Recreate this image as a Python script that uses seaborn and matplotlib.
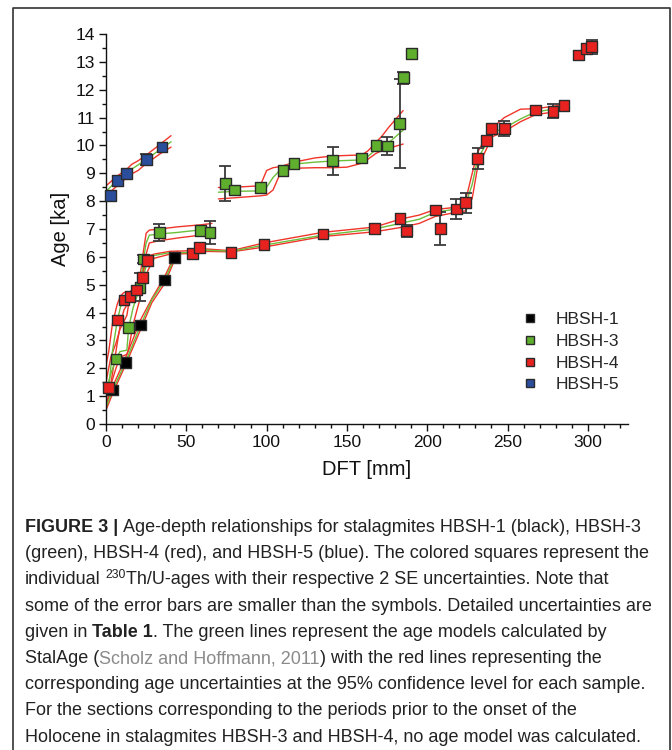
import numpy as np
import pandas as pd
import matplotlib
matplotlib.use("Agg")
import matplotlib.pyplot as plt
import seaborn as sns
from matplotlib.ticker import MultipleLocator
from matplotlib.transforms import IdentityTransform
from matplotlib.lines import Line2D

# ---------------- data: U/Th ages ----------------
h1_dft = [4.2, 12.0, 21.6, 36.6, 42.8]
h1_age = [1.22, 2.20, 3.55, 5.17, 5.98]
h1_err = [0, 0, 0, 0, 0]

h3_dft = [6.2, 14.1, 21.2, 23.3, 33.2, 59.0, 64.8,
          74.2, 80.0, 96.0, 110.2, 117.0, 141.1, 159.2, 168.1, 175.2, 182.9, 185.0, 190.0]
h3_age = [2.33, 3.46, 4.91, 5.92, 6.88, 6.94, 6.87,
          8.64, 8.40, 8.48, 9.09, 9.36, 9.45, 9.55, 10.0, 9.98, 10.79, 12.43, 13.29]
h3_err = [0, 0, 0.5, 0.15, 0.31, 0.1, 0.41,
          0.62, 0, 0, 0, 0, 0.5, 0, 0, 0.31, 1.6, 0.21, 0]

h4_dft = [1.7, 7.0, 11.2, 15.0, 19.1, 22.9, 26.0, 54.0, 58.2, 77.9, 98.3, 135.1, 167.3,
          183.1, 187.3, 205.1, 208.2, 218.2, 224.0, 231.3, 237.1, 240.0, 248.1, 267.3,
          278.3, 285.1, 294.3, 299.1, 302.4]
h4_age = [1.30, 3.73, 4.45, 4.59, 4.81, 5.26, 5.86, 6.13, 6.33, 6.15, 6.44, 6.82, 7.01,
          7.37, 6.93, 7.68, 7.02, 7.72, 7.94, 9.52, 10.18, 10.60, 10.61, 11.27,
          11.22, 11.43, 13.25, 13.47, 13.54]
h4_err = [0, 0, 0, 0, 0, 0.1, 0, 0, 0, 0, 0, 0, 0,
          0, 0.2, 0, 0.6, 0.36, 0.37, 0.38, 0.1, 0, 0.28, 0,
          0.25, 0, 0, 0, 0.26]

h5_dft = [2.9, 7.0, 12.9, 25.1, 34.9]
h5_age = [8.19, 8.75, 9.00, 9.50, 9.94]
h5_err = [0, 0, 0, 0.2, 0]

# ---------------- data: StalAge models (median, upper, lower 95%) ----------------
m1_dft = [0, 4.2, 12, 21.6, 28.5, 36.6, 42.8, 44.5]
m1_med = [0.6, 1.22, 2.2, 3.55, 4.45, 5.17, 5.98, 6.15]
m1_up = [0.75, 1.35, 2.35, 3.75, 4.5, 5.3, 6.05, 6.2]
m1_lo = [0.5, 1.1, 2.1, 3.4, 4.35, 5.05, 5.9, 6.1]

m3a_dft = [0, 3, 6.2, 8.7, 13, 14.1, 17, 21.2, 23.3, 25, 27, 33.2, 45, 59, 66]
m3a_med = [1.2, 1.8, 2.33, 2.6, 2.65, 3.46, 4.2, 4.91, 5.9, 6.5, 6.78, 6.82, 6.88, 6.97, 7.02]
m3a_up = [1.5, 2.4, 2.9, 3.4, 3.9, 4.3, 4.7, 5.3, 6.2, 6.85, 6.96, 7.0, 7.08, 7.15, 7.2]
m3a_lo = [0.9, 1.4, 2.0, 2.4, 2.5, 2.7, 3.6, 4.5, 5.4, 6.1, 6.5, 6.58, 6.68, 6.78, 6.82]

m3b_dft = [70, 80, 96, 100, 104, 108.5, 113, 117, 130, 141, 150, 159.2, 163, 168, 172, 176, 185]
m3b_med = [8.32, 8.35, 8.37, 8.5, 8.85, 9.12, 9.28, 9.33, 9.4, 9.44, 9.46, 9.48, 9.6, 9.85, 9.97, 10.1, 10.55]
m3b_up = [8.49, 8.5, 8.55, 9.1, 9.2, 9.24, 9.32, 9.4, 9.55, 9.62, 9.64, 9.66, 9.8, 10.1, 10.35, 10.65, 11.25]
m3b_lo = [8.08, 8.12, 8.19, 8.22, 8.4, 9.0, 9.12, 9.18, 9.2, 9.2, 9.22, 9.36, 9.5, 9.71, 9.82, 9.9, 10.05]

m4_dft = [0, 1.7, 4, 7, 9, 11.2, 15, 19.1, 22.9, 26, 30, 40, 54, 58.2, 78, 98.3, 135, 167.3,
          183, 195, 205, 218, 224, 228, 231.3, 237.1, 240, 248, 258, 267.3, 278.3, 285]
m4_med = [0.9, 1.3, 2.6, 3.7, 4.2, 4.45, 4.6, 4.8, 5.25, 5.85, 6.05, 6.15, 6.15, 6.25, 6.2, 6.42,
          6.78, 7.0, 7.2, 7.35, 7.6, 7.72, 7.9, 8.6, 9.5, 10.1, 10.45, 10.62, 10.95, 11.2, 11.3, 11.42]
m4_up = [2.1, 2.6, 3.6, 4.3, 4.6, 4.72, 4.75, 4.95, 5.5, 6.02, 6.1, 6.2, 6.22, 6.3, 6.22, 6.5,
         6.88, 7.07, 7.35, 7.5, 7.7, 7.78, 8.05, 9.0, 9.75, 10.35, 10.6, 11.0, 11.3, 11.32, 11.4, 11.48]
m4_lo = [0.5, 1.0, 1.8, 2.9, 3.6, 4.1, 4.45, 4.65, 4.95, 5.5, 5.95, 6.1, 6.12, 6.2, 6.18, 6.35,
         6.73, 6.9, 7.05, 7.2, 7.45, 7.6, 7.65, 8.1, 9.2, 9.9, 10.3, 10.5, 10.85, 11.1, 11.2, 11.35]

m5_dft = [0, 7, 13, 16, 20, 25, 35, 40.5]
m5_med = [8.35, 8.75, 9.0, 9.15, 9.3, 9.5, 9.9, 10.13]
m5_up = [8.55, 8.9, 9.15, 9.32, 9.45, 9.65, 10.1, 10.35]
m5_lo = [8.2, 8.55, 8.85, 8.98, 9.1, 9.35, 9.75, 9.94]

samples = ["HBSH-1", "HBSH-3", "HBSH-4", "HBSH-5"]
colors = {"HBSH-1": "#000000", "HBSH-3": "#5fae2e", "HBSH-4": "#e8231f", "HBSH-5": "#2a4e9c"}
model_color = "#6cbf3c"
bound_color = "#f0352a"

# ---------------- tables ----------------
pts = pd.concat([
    pd.DataFrame({"dft": d, "age": a, "err": e, "sample": s})
    for s, d, a, e in [("HBSH-1", h1_dft, h1_age, h1_err), ("HBSH-3", h3_dft, h3_age, h3_err),
                       ("HBSH-4", h4_dft, h4_age, h4_err), ("HBSH-5", h5_dft, h5_age, h5_err)]
], ignore_index=True)

rows = []
for name, d, med, up, lo in [("m1", m1_dft, m1_med, m1_up, m1_lo), ("m3a", m3a_dft, m3a_med, m3a_up, m3a_lo),
                             ("m3b", m3b_dft, m3b_med, m3b_up, m3b_lo), ("m4", m4_dft, m4_med, m4_up, m4_lo),
                             ("m5", m5_dft, m5_med, m5_up, m5_lo)]:
    for kind, vals in [("bound_up", up), ("bound_lo", lo), ("model", med)]:
        rows.append(pd.DataFrame({"dft": d, "age": vals, "curve": name + kind,
                                  "kind": "model" if kind == "model" else "bound"}))
lines = pd.concat(rows, ignore_index=True)

# ---------------- figure ----------------
sns.set_style("ticks")
plt.rcParams["font.family"] = ["Liberation Sans", "DejaVu Sans"]
plt.rcParams["xtick.direction"] = "out"
plt.rcParams["ytick.direction"] = "out"

fig = plt.figure(figsize=(6.72, 7.5), dpi=100)
ax = fig.add_axes([106 / 672, 1 - 424 / 750, 522 / 672, 390 / 750])

sns.lineplot(data=lines, x="dft", y="age", units="curve", estimator=None, sort=False,
             hue="kind", palette={"model": model_color, "bound": bound_color},
             linewidth=1.0, legend=False, ax=ax, zorder=2)

for s in samples:
    sub = pts[(pts["sample"] == s) & (pts["err"] > 0)]
    ax.errorbar(sub["dft"], sub["age"], yerr=sub["err"], fmt="none", ecolor="#3a3a3a",
                elinewidth=1.3, capsize=4.5, capthick=1.3, zorder=3, clip_on=False)

sns.scatterplot(data=pts, x="dft", y="age", hue="sample", palette=colors, hue_order=samples,
                marker="s", s=60, edgecolor="#2a2a2a", linewidth=1.0, zorder=4, ax=ax, clip_on=False)

ax.set_xlim(0, 325)
ax.set_ylim(0, 14)
ax.xaxis.set_major_locator(MultipleLocator(50))
ax.xaxis.set_minor_locator(MultipleLocator(10))
ax.yaxis.set_major_locator(MultipleLocator(1))
ax.yaxis.set_minor_locator(MultipleLocator(0.5))
ax.tick_params(which="major", length=5, width=1, labelsize=12.5, colors="#111111", pad=3)
ax.tick_params(which="minor", length=3, width=1, colors="#111111")
sns.despine(ax=ax)
for sp in ("left", "bottom"):
    ax.spines[sp].set_linewidth(1.0)
    ax.spines[sp].set_color("#111111")
ax.set_xlabel("DFT [mm]", fontsize=14.5, labelpad=7, color="#111111")
ax.set_ylabel("Age [ka]", fontsize=14.5, labelpad=4, color="#111111")

handles, labels = ax.get_legend_handles_labels()
ax.legend(handles, labels, frameon=False, loc="upper left", bbox_to_anchor=(0.765, 0.305),
          fontsize=12.5, markerscale=0.8, handletextpad=0.5, labelspacing=0.38,
          borderaxespad=0)

# ---------------- border ----------------
H = 750
bx = [13, 13, 670, 670]
by = [0, H - 8, H - 8, 0]
fig.add_artist(Line2D(bx, by, transform=IdentityTransform(), color="#333333", lw=1.2))

# ---------------- caption ----------------
fig.canvas.draw()
renderer = fig.canvas.get_renderer()
cap_fs = 13.0
base = dict(fontsize=cap_fs, color="#222222")


def width_of(txt, **kw):
    t = fig.text(0, 0, txt, transform=IdentityTransform(), **kw)
    w = t.get_window_extent(renderer).width
    t.remove()
    return w


space_w = width_of("a a", **base) - width_of("aa", **base)


def draw_line(x0, y0, runs):
    x = x0
    for txt, kw, dy in runs:
        lead = len(txt) - len(txt.lstrip(" "))
        trail = len(txt) - len(txt.rstrip(" "))
        core = txt.strip(" ")
        x += lead * space_w
        if core:
            t = fig.text(x, y0 + dy, core, transform=IdentityTransform(), va="baseline", **kw)
            x += t.get_window_extent(renderer).width
        x += trail * space_w


bold = dict(base, fontweight="bold")
gray = dict(base, color="#8a8a8a")
sup = dict(fontsize=cap_fs * 0.68, color="#222222")

cap_lines = [
    [("FIGURE 3 |", bold, 0), (" Age-depth relationships for stalagmites HBSH-1 (black), HBSH-3", base, 0)],
    [("(green), HBSH-4 (red), and HBSH-5 (blue). The colored squares represent the", base, 0)],
    [("individual ", base, 0), ("230", sup, 6), ("Th/U-ages with their respective 2 SE uncertainties. Note that", base, 0)],
    [("some of the error bars are smaller than the symbols. Detailed uncertainties are", base, 0)],
    [("given in ", base, 0), ("Table 1", bold, 0), (". The green lines represent the age models calculated by", base, 0)],
    [("StalAge (", base, 0), ("Scholz and Hoffmann, 2011", gray, 0), (") with the red lines representing the", base, 0)],
    [("corresponding age uncertainties at the 95% confidence level for each sample.", base, 0)],
    [("For the sections corresponding to the periods prior to the onset of the", base, 0)],
    [("Holocene in stalagmites HBSH-3 and HBSH-4, no age model was calculated.", base, 0)],
]
for i, runs in enumerate(cap_lines):
    draw_line(25, H - 532 - i * 26.2, runs)

fig.savefig("out.png", dpi=100)
